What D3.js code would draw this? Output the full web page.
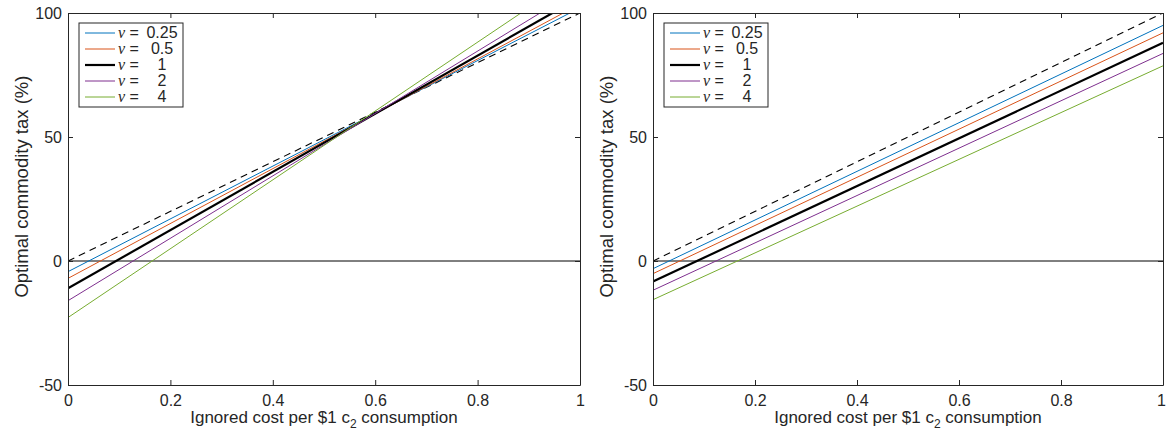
<!DOCTYPE html>
<html><head><meta charset="utf-8">
<script src="https://cdn.jsdelivr.net/npm/d3@7"></script>
<style>body{margin:0;background:#fff}svg{display:block}text{font-family:"Liberation Sans",Arial,sans-serif;fill:#262626}</style>
</head><body><svg id="c" width="1166" height="436"></svg>
<script>
const xEnds = [0, 1];
const xTicks = [0, 0.2, 0.4, 0.6, 0.8, 1];
const xTickLabels = ["0", "0.2", "0.4", "0.6", "0.8", "1"];
const yTicks = [-50, 0, 50, 100];
const yTickLabels = ["-50", "0", "50", "100"];
const nuLabels = ["0.25", "0.5", "1", "2", "4"];
const seriesColors = ["#0072BD", "#D95319", "#000000", "#7E2F8E", "#77AC30"];
const dashedRef = [0, 100];
const leftSeries = [[-4.3, 102.1], [-7, 103.6], [-11, 106.3], [-16, 109.8], [-22.8, 116]];
const rightSeries = [[-3.1, 95], [-5.1, 92], [-8.3, 88], [-11.8, 83.7], [-15.6, 78.7]];
const xLabel = "Ignored cost per $1 c";
const xLabelSub = "2";
const xLabelEnd = " consumption";
const yLabel = "Optimal commodity tax (%)";

const svg = d3.select("#c");
const y = d3.scaleLinear().domain([-50, 100]).range([385, 13]);

function panel(x0, x1, series, id, lastEnd) {
  const x = d3.scaleLinear().domain([0, 1]).range([x0, x1]);
  const g = svg.append("g");
  g.append("clipPath").attr("id", id).append("rect")
    .attr("x", x0).attr("y", 13).attr("width", x1 - x0).attr("height", 372);
  const line = d3.line().x(d => x(d[0])).y(d => y(d[1]));
  const pl = g.append("g").attr("clip-path", `url(#${id})`);
  pl.append("path").datum(xEnds.map(v => [v, 0])).attr("d", line)
    .attr("stroke", "#000").attr("stroke-width", 1).attr("fill", "none");
  pl.append("path").datum(xEnds.map((v, i) => [v, dashedRef[i]])).attr("d", line)
    .attr("stroke", "#000").attr("stroke-width", 1.1).attr("stroke-dasharray", "7,5").attr("fill", "none");
  series.forEach((s, k) => {
    pl.append("path").datum(xEnds.map((v, i) => [v, s[i]])).attr("d", line)
      .attr("stroke", seriesColors[k]).attr("stroke-width", k === 2 ? 2.2 : 1).attr("fill", "none");
  });
  const ax = g.append("g").attr("transform", `translate(0,385)`)
    .call(d3.axisBottom(x).tickValues(xTicks).tickFormat((d, i) => xTickLabels[i]).tickSizeInner(-5).tickSizeOuter(0).tickPadding(10));
  const axT = g.append("g").attr("transform", `translate(0,13)`)
    .call(d3.axisTop(x).tickValues(xTicks).tickFormat("").tickSizeInner(-5).tickSizeOuter(0));
  const ay = g.append("g").attr("transform", `translate(${x0},0)`)
    .call(d3.axisLeft(y).tickValues(yTicks).tickFormat((d, i) => yTickLabels[i]).tickSizeInner(-5).tickSizeOuter(0).tickPadding(6));
  const ayR = g.append("g").attr("transform", `translate(${x1},0)`)
    .call(d3.axisRight(y).tickValues(yTicks).tickFormat("").tickSizeInner(-5).tickSizeOuter(0));
  [ax, axT, ay, ayR].forEach(a => {
    a.selectAll("path").attr("stroke", "#262626").attr("stroke-width", 1);
    a.selectAll("line").attr("stroke", "#262626");
    a.selectAll("text").attr("font-size", 16).attr("fill", "#262626").style("font-family", "Liberation Sans, Arial, sans-serif");
  });
  if (lastEnd) {
    ax.selectAll(".tick").filter(d => d === 1).select("text")
      .attr("text-anchor", "end").attr("dx", 2.5);
  }
  const xl = g.append("text").attr("x", (x0 + x1) / 2).attr("y", 423).attr("text-anchor", "middle").attr("font-size", 17);
  xl.append("tspan").text(xLabel);
  xl.append("tspan").attr("dy", 5).attr("font-size", 12).text(xLabelSub);
  xl.append("tspan").attr("dy", -5).text(xLabelEnd);
  g.append("text").attr("transform", `translate(${x0 - 40},${y(30)}) rotate(-90)`)
    .attr("text-anchor", "middle").attr("font-size", 18.5).text(yLabel);
  const lx = x0 + 11, ly = 23;
  const lg = g.append("g");
  lg.append("rect").attr("x", lx).attr("y", ly).attr("width", 104).attr("height", 84)
    .attr("fill", "#fff").attr("stroke", "#262626").attr("stroke-width", 1);
  nuLabels.forEach((n, k) => {
    const yy = ly + 10 + k * 16;
    lg.append("line").attr("x1", lx + 6).attr("x2", lx + 36).attr("y1", yy).attr("y2", yy)
      .attr("stroke", seriesColors[k]).attr("stroke-width", k === 2 ? 2.2 : 1);
    const t = lg.append("text").attr("x", lx + 39).attr("y", yy + 5).attr("font-size", 16);
    t.append("tspan").attr("font-style", "italic").style("font-family", "Liberation Serif, Times New Roman, serif").text("ν");
    t.append("tspan").text(" =");
    lg.append("text").attr("x", lx + 83).attr("y", yy + 5).attr("text-anchor", "middle").attr("font-size", 16).text(n);
  });
}
panel(68, 580, leftSeries, "clipL", false);
panel(653, 1163, rightSeries, "clipR", true);
</script></body></html>
